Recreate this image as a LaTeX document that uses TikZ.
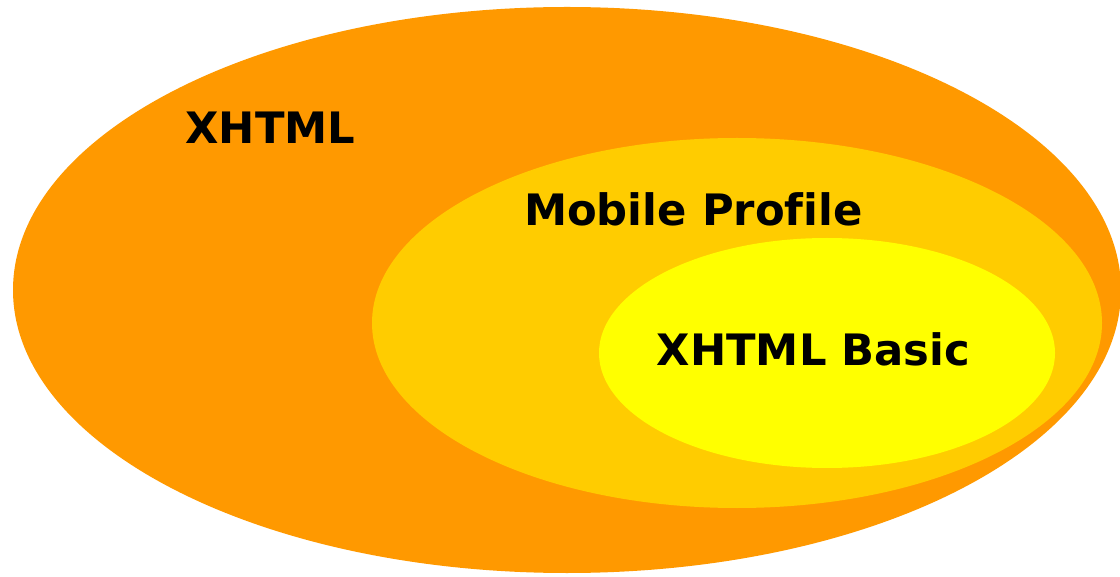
\documentclass[tikz,border=0pt]{standalone}
\usepackage{fontspec}
\setmainfont[Ligatures=NoCommon]{DejaVu Sans}
\usetikzlibrary{calc}
\definecolor{xorange}{RGB}{255,153,0}
\definecolor{xgold}{RGB}{255,204,0}
\definecolor{xyellow}{RGB}{255,255,0}

\begin{document}
\begin{tikzpicture}[line cap=round, line join=round,
	setname/.style={font=\fontsize{30.8}{36}\selectfont\bfseries, anchor=base, inner sep=0pt}]

\useasboundingbox (0,0) rectangle (28,14.4);

%========================
% nested sets
%========================
% XHTML (outer)
\fill[xorange] (14.175,7.15) ellipse (13.85 and 7.075);
% Mobile Profile
\fill[xgold] (18.425,6.325) ellipse (9.125 and 4.625);
% XHTML Basic (inner)
\fill[xyellow] (20.675,5.575) ellipse (5.7 and 2.875);

%========================
% labels
%========================
\node[setname] (xhtml) at (6.7625,10.8) {XHTML};
\node[setname] (mobile) at (17.3375,8.75) {Mobile Profile};
\node[setname] (basic) at (20.3375,5.25) {XHTML Basic};

\end{tikzpicture}
\end{document}
